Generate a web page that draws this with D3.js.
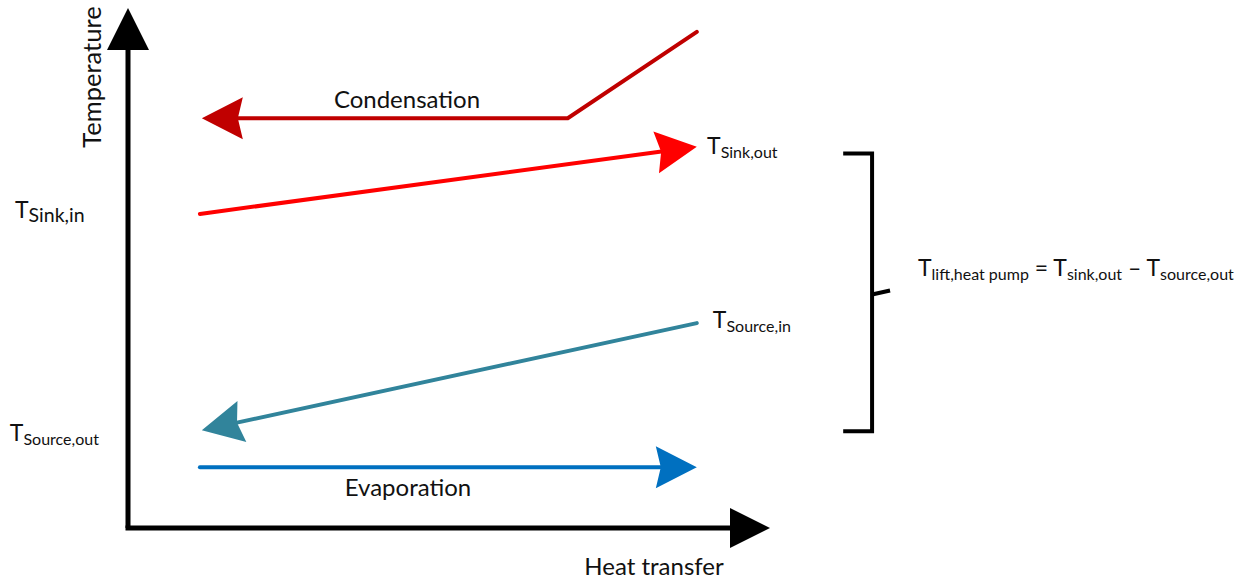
<!DOCTYPE html>
<html><head><meta charset="utf-8">
<script src="https://cdn.jsdelivr.net/npm/d3@7"></script>
<style>
html,body{margin:0;padding:0;background:#fff;}
text{font-family:Lato,"Open Sans",sans-serif;fill:#111;}
</style></head>
<body>
<svg id="chart" width="1244" height="581"></svg>
<script>
// Diagram data in abstract units: heat transfer (0-100) vs temperature (0-100)
const heatDomain = [0, 100];
const tempDomain = [0, 100];
const condensation = [[88.6, 95.4], [68.5, 78.8], [11.5, 78.8]];
const sinkStream   = [[11.2, 60.4], [88.6, 73.3]];
const sourceStream = [[88.6, 39.4], [11.5, 18.8]];
const evaporation  = [[11.2, 11.7], [88.6, 11.7]];
const bracketTemps = [72.0, 18.6];
const bracketHeat  = [111.4, 115.9, 118.7];
const streamNames  = ["Condensation", "Sink", "Source", "Evaporation"];
const streamColors = ["#C00000", "#FF0000", "#31849B", "#0070C0"];
const pointLabels  = [
  {main: "T", sub: "Sink,out",   at: [90.2, 71.9], subSize: 16},
  {main: "T", sub: "Sink,in",    at: [-17.6, 59.6], subSize: 19.5},
  {main: "T", sub: "Source,in",  at: [91.1, 38.5], subSize: 16},
  {main: "T", sub: "Source,out", at: [-18.4, 16.8], subSize: 16}
];

const svg = d3.select("#chart");
const x = d3.scaleLinear(heatDomain, [128, 770]);
const y = d3.scaleLinear(tempDomain, [528, 8]);

function arrowHead(tip, from, color, L, W, notch) {
  const ang = Math.atan2(y(tip[1]) - y(from[1]), x(tip[0]) - x(from[0])) * 180 / Math.PI;
  const p = `M0,0 L${-L},${-W} L${-L + notch},0 L${-L},${W} Z`;
  svg.append("path").attr("d", p).attr("fill", color)
    .attr("transform", `translate(${x(tip[0])},${y(tip[1])}) rotate(${ang})`);
}
function shorten(pts, L) {
  const a = pts[pts.length - 2], b = pts[pts.length - 1];
  const dx = x(b[0]) - x(a[0]), dy = y(b[1]) - y(a[1]);
  const len = Math.hypot(dx, dy);
  const t = (len - L) / len;
  return pts.slice(0, -1).map(p => [x(p[0]), y(p[1])]).concat([[x(a[0]) + dx * t, y(a[1]) + dy * t]]);
}
const line = d3.line();

// Axes
svg.append("path").attr("d", line([[x(0), y(0)], [x(0), y(100) + 30]]))
  .attr("stroke", "#000").attr("stroke-width", 5).attr("fill", "none");
svg.append("path").attr("d", line([[x(0) - 2.5, y(0)], [x(100) - 30, y(0)]]))
  .attr("stroke", "#000").attr("stroke-width", 5).attr("fill", "none");
arrowHead([0, 100], [0, 0], "#000", 42, 21, 0);
arrowHead([100, 0], [0, 0], "#000", 40, 20, 0);

// Streams
[condensation, sinkStream, sourceStream, evaporation].forEach((pts, i) => {
  svg.append("path").attr("class", "stream-" + streamNames[i])
    .attr("d", line(shorten(pts, 30)))
    .attr("stroke", streamColors[i]).attr("stroke-width", 4)
    .attr("stroke-linejoin", "miter").attr("stroke-linecap", "round").attr("fill", "none");
  arrowHead(pts[pts.length - 1], pts[pts.length - 2], streamColors[i], 41, 21, 5);
});

// Bracket
const bx = x(bracketHeat[1]);
svg.append("path")
  .attr("d", line([[x(bracketHeat[0]), y(bracketTemps[0])], [bx, y(bracketTemps[0])],
                   [bx, y(bracketTemps[1])], [x(bracketHeat[0]), y(bracketTemps[1])]]))
  .attr("stroke", "#000").attr("stroke-width", 4).attr("fill", "none");
const mid = (y(bracketTemps[0]) + y(bracketTemps[1])) / 2;
svg.append("path").attr("d", line([[bx, mid + 2], [x(bracketHeat[2]), mid - 2]]))
  .attr("stroke", "#000").attr("stroke-width", 4).attr("fill", "none");

// Text labels
const fs = 23, subFs = 16;
svg.append("text").attr("x", 407).attr("y", 108).attr("text-anchor", "middle")
  .attr("font-size", 24).text("Condensation");
svg.append("text").attr("x", 408).attr("y", 496).attr("text-anchor", "middle")
  .attr("font-size", 24).text("Evaporation");
svg.append("text").attr("x", 654).attr("y", 575).attr("text-anchor", "middle")
  .attr("font-size", 24).text("Heat transfer");
svg.append("text").attr("transform", "translate(101,77) rotate(-90)").attr("text-anchor", "middle")
  .attr("font-size", 25.5).text("Temperature");

pointLabels.forEach(d => {
  const t = svg.append("text").attr("x", x(d.at[0])).attr("y", y(d.at[1])).attr("font-size", fs);
  t.append("tspan").text(d.main);
  t.append("tspan").attr("font-size", d.subSize).attr("dy", 4).text(d.sub);
});

const f = svg.append("text").attr("x", 918).attr("y", 276).attr("font-size", fs);
f.append("tspan").text("T");
f.append("tspan").attr("font-size", subFs).attr("dy", 4).text("lift,heat pump");
f.append("tspan").attr("dy", -4).text(" = T");
f.append("tspan").attr("font-size", subFs).attr("dy", 4).text("sink,out");
f.append("tspan").attr("dy", -4).text(" \u2013 T");
f.append("tspan").attr("font-size", subFs).attr("dy", 4).text("source,out");
</script>
</body></html>
